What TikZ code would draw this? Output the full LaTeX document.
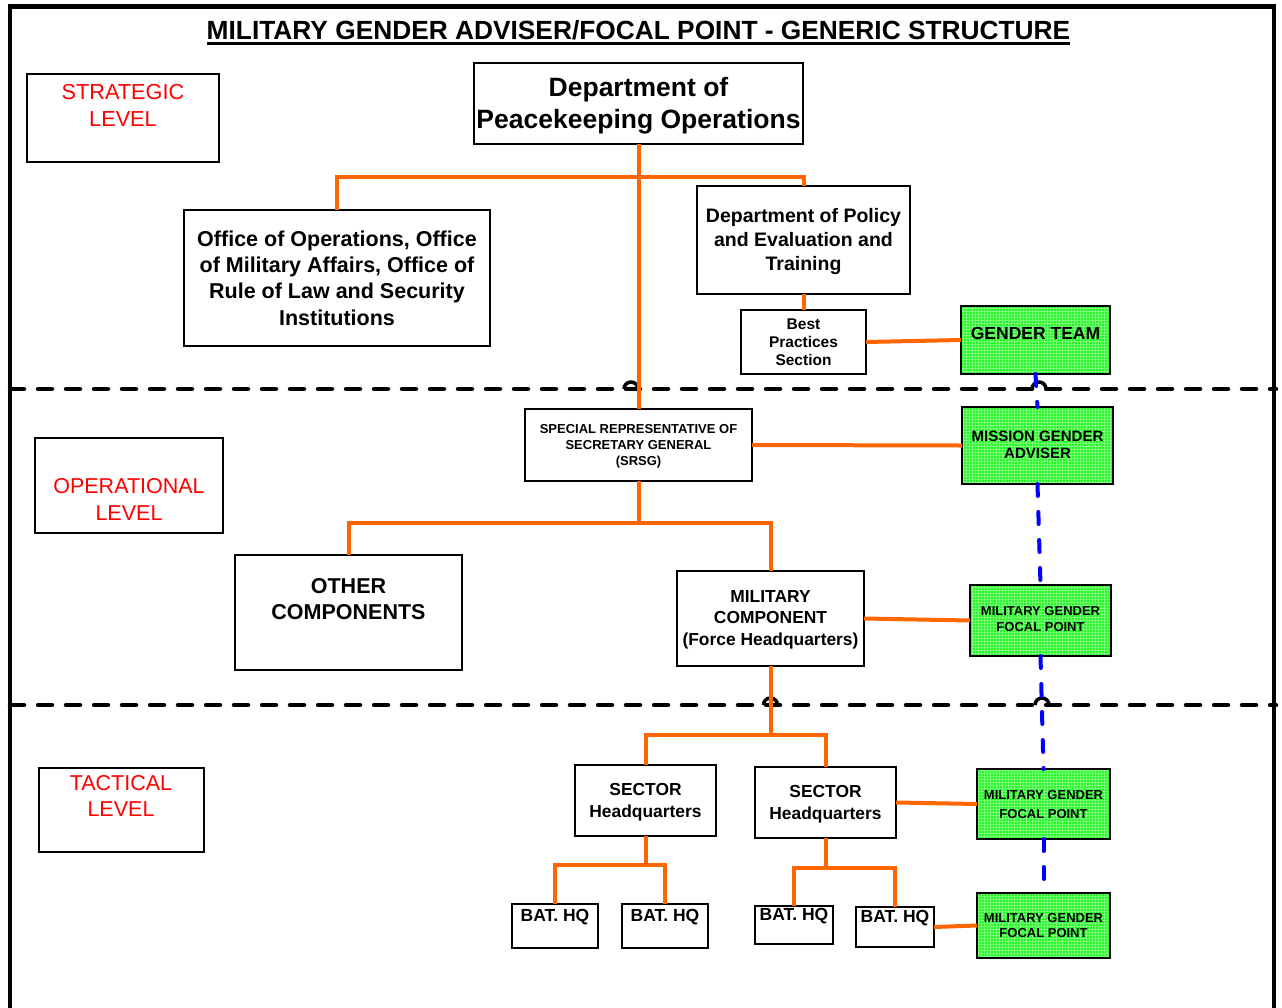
\documentclass[tikz,border=0pt]{standalone}
\usepackage{fontspec}
\setmainfont{Liberation Sans}
\usetikzlibrary{patterns}
\definecolor{org}{RGB}{255,102,0}
\definecolor{grn}{RGB}{40,245,40}
\definecolor{grnl}{RGB}{120,255,120}
\definecolor{lvlred}{RGB}{255,0,0}
\definecolor{gblue}{RGB}{0,0,255}
\newcommand\fs[2]{\fontsize{#1}{#2}\selectfont}
\newcommand\bx[6]{\node[#6, minimum width={(#4-#2)*1pt}, minimum height={(#5-#3)*1pt}] (#1) at ({(#2+#4)/2},{(#3+#5)/2}) {};}
\begin{document}
\begin{tikzpicture}[x=1pt,y=-1pt,
 box/.style={draw=black, fill=white, line width=1.3pt, inner sep=0pt, outer sep=0pt},
 gbox/.style={inner sep=0pt, outer sep=0pt, fill=grn, postaction={pattern=grid, pattern color=grnl}, postaction={draw=black, line width=1.3pt}},
 txt/.style={inner sep=0pt, outer sep=0pt, align=center, font=\bfseries},
 lvl/.style={inner sep=0pt, outer sep=0pt, align=center, text=lvlred},
 conn/.style={draw=org, line width=4pt},
 gline/.style={draw=gblue, line width=4pt, dash pattern=on 12pt off 16pt, line cap=round},
 levline/.style={draw=black, line width=4.5pt, dash pattern=on 14pt off 14pt, line cap=round},
 hop/.style={draw=black, line width=3.5pt}]
\useasboundingbox (0,0) rectangle (1282,1007);
% frame
\coordinate (fa) at (10,1012);
\coordinate (fb) at (10,6.5);
\coordinate (fc) at (1274,6.5);
\coordinate (fd) at (1274,1012);
\draw[line width=4.5pt] (fa) -- (fb) -- (fc) -- (fd);
% title
\node[txt, font=\bfseries\fs{26.3}{30}] (title) at (638.5,30.5) {MILITARY GENDER ADVISER/FOCAL POINT - GENERIC STRUCTURE};
\draw[line width=2.5pt] ([yshift=-3pt]title.south west) -- ([yshift=-3pt]title.south east);
% level lines
\coordinate (d1l) at (10,389); \coordinate (d1r) at (1276,389);
\coordinate (d2l) at (10,705); \coordinate (d2r) at (1276,705);
\draw[levline] (d1l) -- (d1r);
\draw[levline] (d2l) -- (d2r);
\coordinate (h1) at (631,389); \coordinate (h2) at (770.5,705);
\coordinate (h3) at (1039,389); \coordinate (h4) at (1042,705);
\foreach \h in {h1,h2,h3,h4}{\draw[hop] ([xshift=-7pt]\h) arc[start angle=180, end angle=360, radius=7];}
% boxes
\bx{strat}{27}{74}{219}{162}{box}
\bx{oper}{35}{438}{223}{533}{box}
\bx{tact}{39}{768}{204}{852}{box}
\bx{dpko}{474}{63}{803}{144}{box}
\bx{office}{184}{210}{490}{346}{box}
\bx{dpet}{697}{186}{910}{294}{box}
\bx{bp}{741}{310}{866}{374}{box}
\bx{gt}{961}{306}{1110}{374}{gbox}
\bx{srsg}{525}{409}{752}{481}{box}
\bx{mga}{962}{407}{1113}{484}{gbox}
\bx{other}{235}{555}{462}{670}{box}
\bx{milc}{677}{571}{864}{666}{box}
\bx{fp1}{970}{585}{1111}{656}{gbox}
\bx{sec1}{575}{765}{716}{836}{box}
\bx{sec2}{755}{767}{896}{838}{box}
\bx{fp2}{977}{769}{1110}{839}{gbox}
\bx{bat1}{512}{904}{598}{948}{box}
\bx{bat2}{622}{904}{708}{948}{box}
\bx{bat3}{755}{906}{833}{944}{box}
\bx{bat4}{856}{907}{934}{947}{box}
\bx{fp3}{977}{893}{1110}{958}{gbox}
% orange connectors
\coordinate (bus1) at (638.5,177);
\coordinate (bus2) at (638.5,523);
\coordinate (bus3) at (770.5,735);
\coordinate (bus4) at (645.5,865);
\coordinate (bus5) at (825.5,868);
\draw[conn] (dpko.south) -- (srsg.north);
\draw[conn] (office.north) |- (bus1) -| (dpet.north);
\draw[conn] (dpet.south) -- (bp.north);
\draw[conn] (bp.east) -- (gt.west);
\draw[conn] (srsg.east) -- (mga.west);
\draw[conn] (srsg.south) -- (bus2);
\draw[conn] (other.north) |- (bus2) -| (milc.north);
\draw[conn] (milc.east) -- (fp1.west);
\draw[conn] (milc.south) -- (bus3);
\draw[conn] (sec1.north) |- (bus3) -| (sec2.north);
\draw[conn] (sec1.south) -- (bus4);
\draw[conn] (bat1.north) |- (bus4) -| (bat2.north);
\draw[conn] (sec2.south) -- (bus5);
\draw[conn] (bat3.north) |- (bus5) -| (bat4.north);
\draw[conn] (sec2.east) -- (fp2.west);
\draw[conn] (bat4.east) -- (fp3.west);
% blue dashed
\draw[gline] (gt.south) -- (mga.north);
\draw[gline] (mga.south) -- (fp1.north);
\draw[gline] (fp1.south) -- (fp2.north);
\draw[gline] (fp2.south) -- (fp3.north);
% texts
\node[lvl, font=\fs{21.7}{27}] (tstrat) at (123,105.5) {STRATEGIC\\LEVEL};
\node[lvl, font=\fs{21.5}{27}] (toper) at (129,499.5) {OPERATIONAL\\LEVEL};
\node[lvl, font=\fs{21.5}{26}] (ttact) at (121,796) {TACTICAL\\LEVEL};
\node[txt, font=\bfseries\fs{26.5}{32}] (tdpko) at (638.5,106) {Department of\\Peacekeeping Operations};
\node[txt, font=\bfseries\fs{21.5}{26.4}] (toffice) at (337,278) {Office of Operations, Office\\of Military Affairs, Office of\\Rule of Law and Security\\Institutions};
\node[txt, font=\bfseries\fs{19.5}{24}] (tdpet) at (803.5,241) {Department of Policy\\and Evaluation and\\Training};
\node[txt, font=\bfseries\fs{15.5}{18}] (tbp) at (803.5,342) {Best\\Practices\\Section};
\node[txt, font=\bfseries\fs{17.5}{20}] (tgt) at (1035.5,333.5) {GENDER TEAM};
\node[txt, font=\bfseries\fs{13}{16}] (tsrsg) at (638.5,446) {SPECIAL REPRESENTATIVE OF\\SECRETARY GENERAL\\(SRSG)};
\node[txt, font=\bfseries\fs{15}{17.5}] (tmga) at (1037.5,445) {MISSION GENDER\\ADVISER};
\node[txt, font=\bfseries\fs{21.5}{26.5}] (tother) at (348.5,599) {OTHER\\COMPONENTS};
\node[txt, font=\bfseries\fs{17.4}{21.5}] (tmilc) at (770.5,619.5) {MILITARY\\COMPONENT\\(Force Headquarters)};
\node[txt, font=\bfseries\fs{13}{16}] (tfp1) at (1040.5,619) {MILITARY GENDER\\FOCAL POINT};
\node[txt, font=\bfseries\fs{17.4}{22}] (tsec1) at (645.5,802) {SECTOR\\Headquarters};
\node[txt, font=\bfseries\fs{17.4}{22}] (tsec2) at (825.5,804) {SECTOR\\Headquarters};
\node[txt, font=\bfseries\fs{13}{19}] (tfp2) at (1043.5,804.5) {MILITARY GENDER\\FOCAL POINT};
\node[txt, font=\bfseries\fs{17.5}{20}] (tbat1) at (555,917.5) {BAT. HQ};
\node[txt, font=\bfseries\fs{17.5}{20}] (tbat2) at (665,917.5) {BAT. HQ};
\node[txt, font=\bfseries\fs{17.5}{20}] (tbat3) at (794,916.5) {BAT. HQ};
\node[txt, font=\bfseries\fs{17.5}{20}] (tbat4) at (895,918.5) {BAT. HQ};
\node[txt, font=\bfseries\fs{13}{15.5}] (tfp3) at (1043.5,925.5) {MILITARY GENDER\\FOCAL POINT};
\end{tikzpicture}
\end{document}
